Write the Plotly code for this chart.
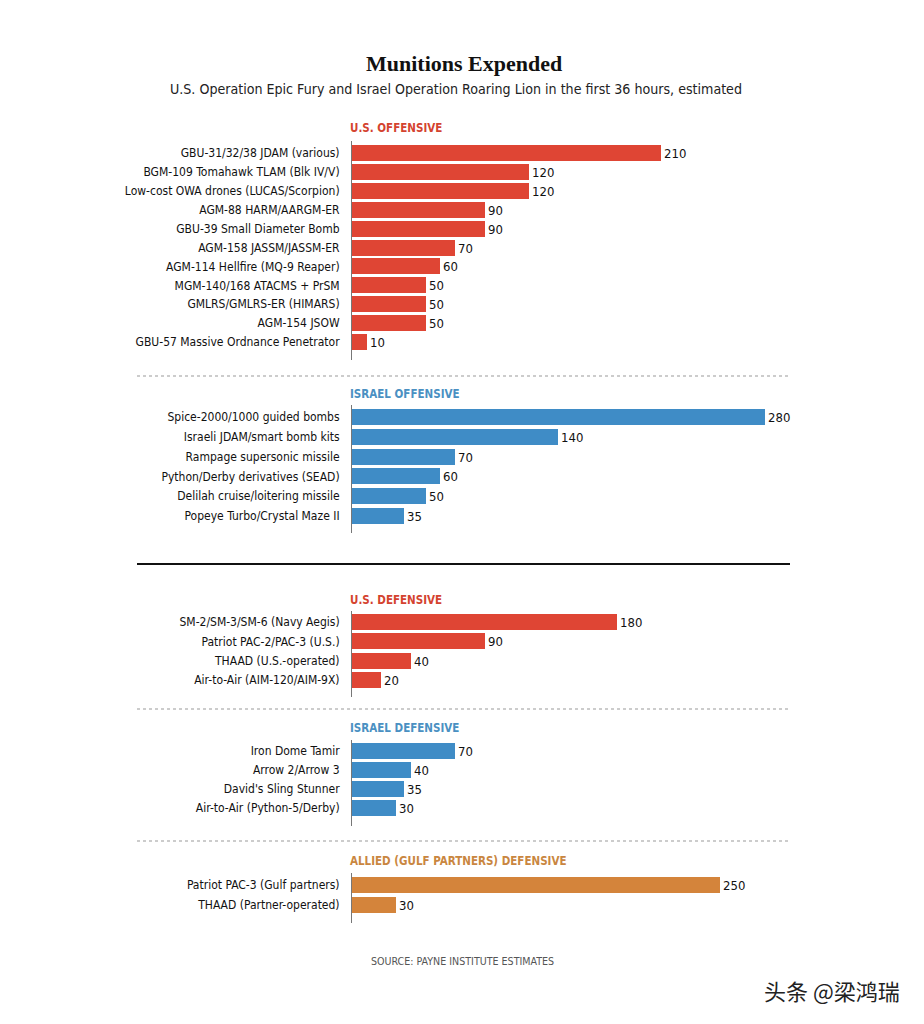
import plotly.graph_objects as go

# Page has an 8px body margin; figure drawn in page coords offset by 8
OFF = 8
W, H = 908, 1000

us_off_labels = ["GBU-31/32/38 JDAM (various)", "BGM-109 Tomahawk TLAM (Blk IV/V)",
                 "Low-cost OWA drones (LUCAS/Scorpion)", "AGM-88 HARM/AARGM-ER",
                 "GBU-39 Small Diameter Bomb", "AGM-158 JASSM/JASSM-ER",
                 "AGM-114 Hellfire (MQ-9 Reaper)", "MGM-140/168 ATACMS + PrSM",
                 "GMLRS/GMLRS-ER (HIMARS)", "AGM-154 JSOW", "GBU-57 Massive Ordnance Penetrator"]
us_off_values = [210, 120, 120, 90, 90, 70, 60, 50, 50, 50, 10]

il_off_labels = ["Spice-2000/1000 guided bombs", "Israeli JDAM/smart bomb kits",
                 "Rampage supersonic missile", "Python/Derby derivatives (SEAD)",
                 "Delilah cruise/loitering missile", "Popeye Turbo/Crystal Maze II"]
il_off_values = [280, 140, 70, 60, 50, 35]

us_def_labels = ["SM-2/SM-3/SM-6 (Navy Aegis)", "Patriot PAC-2/PAC-3 (U.S.)",
                 "THAAD (U.S.-operated)", "Air-to-Air (AIM-120/AIM-9X)"]
us_def_values = [180, 90, 40, 20]

il_def_labels = ["Iron Dome Tamir", "Arrow 2/Arrow 3", "David's Sling Stunner",
                 "Air-to-Air (Python-5/Derby)"]
il_def_values = [70, 40, 35, 30]

gulf_def_labels = ["Patriot PAC-3 (Gulf partners)", "THAAD (Partner-operated)"]
gulf_def_values = [250, 30]

section_titles = ["U.S. OFFENSIVE", "ISRAEL OFFENSIVE", "U.S. DEFENSIVE",
                  "ISRAEL DEFENSIVE", "ALLIED (GULF PARTNERS) DEFENSIVE"]

RED, BLUE, ORANGE = "#df4534", "#3f8cc6", "#d4843b"
RED_T, BLUE_T, ORANGE_T = "#d4432f", "#4a90c2", "#c98640"

def py(p):
    return 1 - (p - OFF) / H

def px(p):
    return (p - OFF) / W

FONT = "Liberation Sans Narrow, DejaVu Sans Condensed, Roboto, sans-serif"

panels = [
    # labels, values, bar colour, title colour, first-row px, pitch px, axis top px, axis bottom px, title px
    (us_off_labels, us_off_values, RED, RED_T, 153, 18.9, 141, 360, 128),
    (il_off_labels, il_off_values, BLUE, BLUE_T, 417, 19.8, 405, 533, 394),
    (us_def_labels, us_def_values, RED, RED_T, 622, 19.3, 611, 697, 600),
    (il_def_labels, il_def_values, BLUE, BLUE_T, 751, 19.0, 740, 826, 728),
    (gulf_def_labels, gulf_def_values, ORANGE, ORANGE_T, 885, 20.0, 873, 923, 861),
]

fig = go.Figure()
X0, X1 = 352, 800
XMAX = 304
annotations = []
for i, (labs, vals, col, tcol, y0, pitch, top, bot, tpy) in enumerate(panels):
    k = "" if i == 0 else str(i + 1)
    fig.add_trace(go.Bar(
        x=vals, y=list(range(len(vals))), orientation="h",
        marker=dict(color=col, line=dict(width=0)),
        width=16.0 / pitch,
        text=[str(v) for v in vals], textposition="outside",
        textfont=dict(family=FONT, size=13, color="#111"),
        cliponaxis=False, hoverinfo="skip",
        xaxis="x" + k, yaxis="y" + k, showlegend=False,
    ))
    fig.layout["xaxis" + k] = dict(
        domain=[px(X0), px(X1)], range=[0, XMAX], visible=False,
        anchor="y" + k, fixedrange=True)
    fig.layout["yaxis" + k] = dict(
        domain=[py(bot), py(top)],
        range=[(bot - y0) / pitch, -(y0 - top) / pitch],
        tickmode="array", tickvals=list(range(len(vals))), ticktext=labs,
        ticks="outside", ticklen=9, tickcolor="rgba(0,0,0,0)",
        showline=True, linecolor="#777", linewidth=1,
        showgrid=False, zeroline=False, anchor="x" + k,
        tickfont=dict(family=FONT, size=12, color="#111"),
        fixedrange=True)
    annotations.append(dict(
        text="<b>" + section_titles[i] + "</b>", x=px(348), y=py(tpy),
        xref="paper", yref="paper", xanchor="left", yanchor="middle",
        showarrow=False, font=dict(family=FONT, size=11.5, color=tcol)))

annotations += [
    dict(text="<b>Munitions Expended</b>", x=px(464), y=py(63), xref="paper", yref="paper",
         xanchor="center", yanchor="middle", showarrow=False,
         font=dict(family="Liberation Serif, DejaVu Serif, serif", size=22, color="#111")),
    dict(text="U.S. Operation Epic Fury and Israel Operation Roaring Lion in the first 36 hours, estimated",
         x=px(456), y=py(89), xref="paper", yref="paper", xanchor="center", yanchor="middle",
         showarrow=False, font=dict(family=FONT, size=14.1, color="#222")),
    dict(text="SOURCE: PAYNE INSTITUTE ESTIMATES", x=px(462), y=py(961), xref="paper", yref="paper",
         xanchor="center", yanchor="middle", showarrow=False,
         font=dict(family=FONT, size=10.6, color="#555")),
    dict(text="头条 @梁鸿瑞", x=px(902), y=py(990), xref="paper", yref="paper",
         xanchor="right", yanchor="middle", showarrow=False,
         font=dict(family="Noto Sans CJK SC", size=22, color="#222")),
]

shapes = [
    dict(type="line", xref="paper", yref="paper", x0=px(137), x1=px(790), y0=py(376), y1=py(376),
         line=dict(color="#999", width=1, dash="dot")),
    dict(type="line", xref="paper", yref="paper", x0=px(137), x1=px(790), y0=py(564), y1=py(564),
         line=dict(color="#111", width=2)),
    dict(type="line", xref="paper", yref="paper", x0=px(137), x1=px(790), y0=py(709), y1=py(709),
         line=dict(color="#999", width=1, dash="dot")),
    dict(type="line", xref="paper", yref="paper", x0=px(137), x1=px(790), y0=py(841), y1=py(841),
         line=dict(color="#999", width=1, dash="dot")),
]

fig.update_layout(width=W, height=H, margin=dict(l=0, r=0, t=0, b=0),
                  paper_bgcolor="white", plot_bgcolor="white",
                  annotations=annotations, shapes=shapes, bargap=0)
fig.write_html("out.html", config={"displayModeBar": False})
